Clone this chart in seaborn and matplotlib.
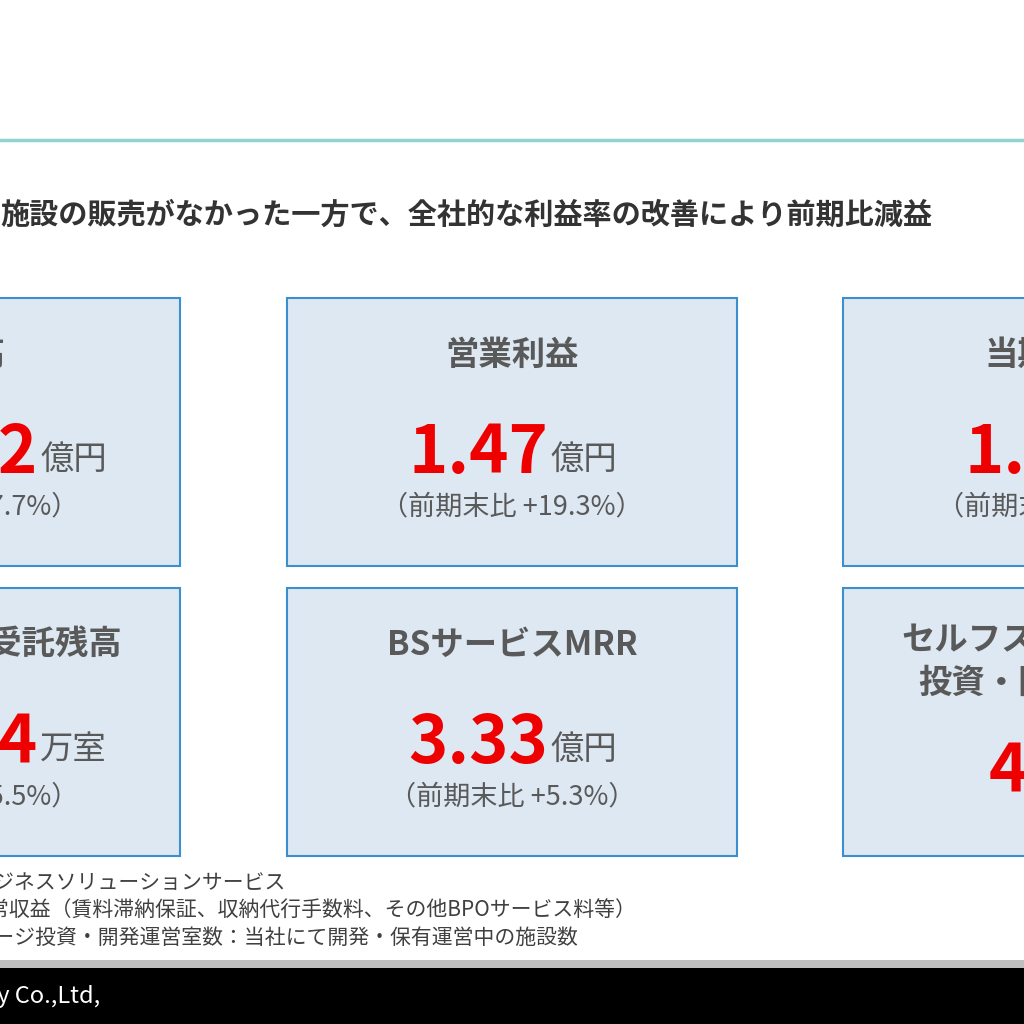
import matplotlib
matplotlib.use("Agg")
import matplotlib.pyplot as plt
import seaborn as sns
from matplotlib.patches import Rectangle

sns.set_theme(style="white")
plt.rcParams['font.family'] = ['Noto Sans CJK JP', 'DejaVu Sans']

# data
titles = ["売上高", "営業利益", "当期純利益", "賃貸住宅管理受託残高", "BSサービスMRR", "セルフストレージ施設\n投資・開発運営室数"]
values = ["12.72", "1.47", "1.03", "11.34", "3.33", "4,321"]
units = ["億円", "億円", "億円", "万室", "億円", "室"]
changes = ["（前期末比 +7.7%）", "（前期末比 +19.3%）", "（前期末比 +20.1%）", "（前期末比 +5.5%）", "（前期末比 +5.3%）", ""]
headline = "施設の販売がなかった一方で、全社的な利益率の改善により前期比減益"
notes = ["※1 BS：ビジネスソリューションサービス",
         "※2 MRR：月次経常収益（賃料滞納保証、収納代行手数料、その他BPOサービス料等）",
         "※3 セルフストレージ投資・開発運営室数：当社にて開発・保有運営中の施設数"]

# layout
note_ends = [285, 636, 578]
value_right = [38, 548, 1104, 38, 548, 1168]
lefts = [-270, 287, 843]
tops = [298, 588]

fig = plt.figure(figsize=(10.24, 10.24), dpi=100)
ax = fig.add_axes([0, 0, 1, 1])
ax.set_xlim(0, 1024)
ax.set_ylim(1024, 0)
ax.axis("off")

ax.plot([0, 1024], [140, 140], color="#8fd3d3", lw=2.5)
ax.text(0, 215, headline, fontsize=21, fontweight="bold", color="#333333", va="center", ha="left")

for i in range(6):
    r, c = divmod(i, 3)
    x0, y0 = lefts[c], tops[r]
    ax.add_patch(Rectangle((x0, y0), 450, 268, facecolor="#dde8f3", edgecolor="#3b8fcf", lw=1.5))
    cx = x0 + 225
    if "\n" in titles[i]:
        l1, l2 = titles[i].split("\n")
        ax.text(cx, y0 + 52, l1, fontsize=24, fontweight="bold", color="#595959", ha="center", va="center")
        ax.text(cx, y0 + 95, l2, fontsize=24, fontweight="bold", color="#595959", ha="center", va="center")
        vy = y0 + 185
    else:
        ax.text(cx, y0 + 57, titles[i], fontsize=24, fontweight="bold", color="#595959", ha="center", va="center")
        vy = y0 + 155
    vr = value_right[i]
    ax.text(vr, vy, values[i], fontsize=48, fontweight="bold", color="#ee0000", ha="right", va="center")
    ax.text(vr + 2, vy + 6, units[i], fontsize=24, color="#595959", ha="left", va="center")
    if changes[i]:
        ax.text(cx, y0 + 209, changes[i], fontsize=19.5, color="#595959", ha="center", va="center")

for k, (t, e) in enumerate(zip(notes, note_ends)):
    ax.text(e, 883 + 27.5 * k, t, fontsize=15, color="#404040", ha="right", va="center")

ax.add_patch(Rectangle((0, 960), 1024, 8, facecolor="#bfbfbf", edgecolor="none"))
ax.add_patch(Rectangle((0, 968), 1024, 56, facecolor="black", edgecolor="none"))
ax.text(100, 996, "© Company Co.,Ltd,", fontsize=17, color="white", ha="right", va="center")

fig.savefig("out.png", dpi=100)
